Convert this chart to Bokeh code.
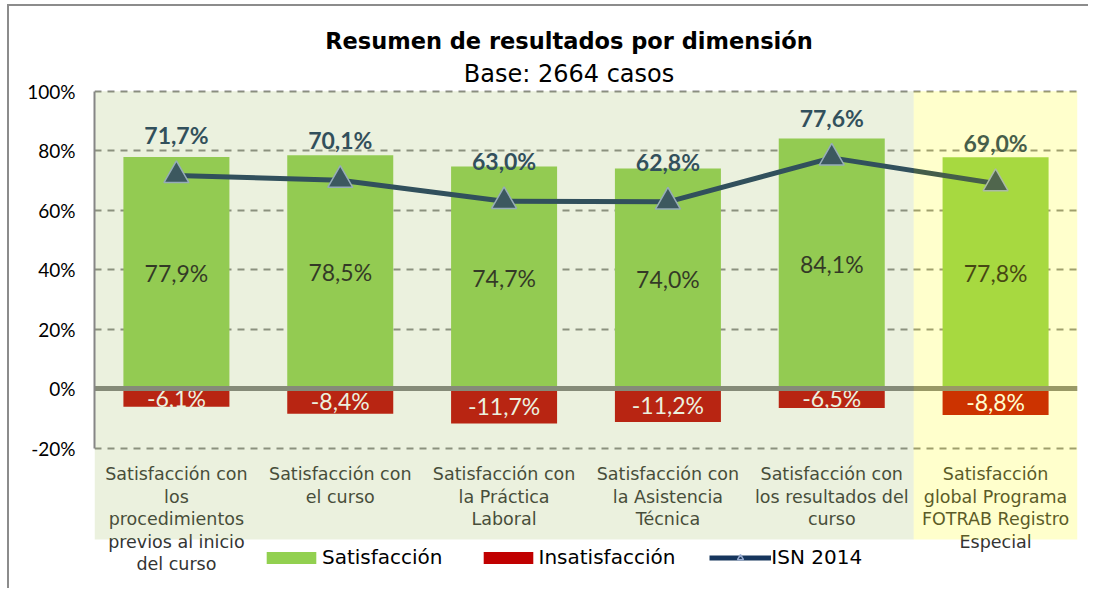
from bokeh.plotting import figure
from bokeh.models import (ColumnDataSource, FactorRange, Range1d, FixedTicker,
                          PrintfTickFormatter, Legend, LegendItem, Label)
from bokeh.core.properties import value
from bokeh.embed import file_html
from bokeh.resources import INLINE

# ---------------- data ----------------
categories = [
    "Satisfacción con los procedimientos previos al inicio del curso",
    "Satisfacción con el curso",
    "Satisfacción con la Práctica Laboral",
    "Satisfacción con la Asistencia Técnica",
    "Satisfacción con los resultados del curso",
    "Satisfacción global Programa FOTRAB Registro Especial",
]
category_labels = [
    "Satisfacción con\nlos\nprocedimientos\nprevios al inicio\ndel curso",
    "Satisfacción con\nel curso",
    "Satisfacción con\nla Práctica\nLaboral",
    "Satisfacción con\nla Asistencia\nTécnica",
    "Satisfacción con\nlos resultados del\ncurso",
    "Satisfacción\nglobal Programa\nFOTRAB Registro\nEspecial",
]
satisfaccion = [77.9, 78.5, 74.7, 74.0, 84.1, 77.8]
insatisfaccion = [-6.1, -8.4, -11.7, -11.2, -6.5, -8.8]
isn_2014 = [71.7, 70.1, 63.0, 62.8, 77.6, 69.0]
y_ticks = [-20, 0, 20, 40, 60, 80, 100]

title_text = "Resumen de resultados por dimensión"
subtitle_text = "Base: 2664 casos"


def pct(v):
    return f"{v:.1f}%".replace(".", ",")


src = ColumnDataSource(dict(
    cat=categories,
    label=category_labels,
    sat=satisfaccion,
    sat_mid=[v / 2 for v in satisfaccion],
    sat_txt=[pct(v) for v in satisfaccion],
    ins=insatisfaccion,
    ins_mid=[v / 2 for v in insatisfaccion],
    ins_txt=[pct(v) for v in insatisfaccion],
    isn=isn_2014,
    isn_txt=[pct(v) for v in isn_2014],
    zero=[0] * len(categories),
))

p = figure(
    width=1088, height=588,
    x_range=FactorRange(factors=categories, range_padding=0),
    y_range=Range1d(-67.16, 130.49),
    output_backend="svg", toolbar_location=None, title=None,
    min_border_left=94, min_border_right=11, min_border_top=0, min_border_bottom=0,
)
p.background_fill_alpha = 0
p.border_fill_alpha = 0
p.outline_line_color = None
# chart-area frame: thin gray top and left edges
p.styles = {"background-color": "#ffffff",
            "box-shadow": "inset 7px 4px 0 0 #ffffff, inset 9px 6px 0 0 #8c8c8c"}

# axes
p.xaxis.visible = False
p.xgrid.grid_line_color = None
yax = p.yaxis[0]
yax.ticker = FixedTicker(ticks=y_ticks)
yax.formatter = PrintfTickFormatter(format="%d%%")
yax.bounds = (-20, 100)
yax.axis_line_color = "#868686"
yax.axis_line_width = 2
yax.major_tick_line_color = None
yax.minor_tick_line_color = None
yax.major_label_standoff = 13
yax.major_label_text_font = "Lato"
yax.major_label_text_font_size = "19px"
yax.major_label_text_color = "#000000"

p.ygrid.ticker = FixedTicker(ticks=[t for t in y_ticks if t != 0])
p.ygrid.grid_line_color = "#878787"
p.ygrid.grid_line_width = 2
p.ygrid.grid_line_dash = "7 6"

# bars
r_sat = p.vbar(x="cat", top="sat", bottom="zero", width=0.647, source=src,
               fill_color="#92D050", line_color=None)
r_ins = p.vbar(x="cat", top="zero", bottom="ins", width=0.647, source=src,
               fill_color="#C00000", line_color=None)

# bar labels
p.text(x="cat", y="sat_mid", text="sat_txt", source=src,
       text_font=value("Lato"), text_font_size="23px", text_color="#1a1a1a",
       text_align="center", text_baseline="middle")
p.text(x="cat", y="ins_mid", text="ins_txt", source=src,
       text_font=value("Lato"), text_font_size="23px", text_color="#FFFFFF",
       text_align="center", text_baseline="middle")

# zero line
p.hspan(y=[0], line_color="#808080", line_width=5)

# ISN line
r_line = p.line(x="cat", y="isn", source=src, line_color="#17365D", line_width=5)
r_mark = p.scatter(x="cat", y="isn", source=src, marker="triangle", size=25,
                   fill_color="#254061", line_color="#95A9CF", line_width=1.5)
p.text(x="cat", y="isn", text="isn_txt", source=src, y_offset=-40,
       text_font=value("Lato"), text_font_style="bold", text_font_size="23px",
       text_color="#17365D", text_align="center", text_baseline="middle")

# category labels
p.text(x="cat", y=-25.3, text="label", source=src,
       text_font=value("DejaVu Sans"), text_font_size="17.5px",
       text_color="#333333", text_align="center", text_baseline="top",
       text_line_height=1.13)

# translucent region overlays
ov = ColumnDataSource(dict(
    left=[[categories[0], -0.5], [categories[5], -0.5]],
    right=[[categories[4], 0.5], [categories[5], 0.5]],
    top=[100, 100],
    bottom=[-50.7, -50.7],
    color=["#9BBB59", "#FFFF00"],
))
p.quad(left="left", right="right", top="top", bottom="bottom", source=ov,
       fill_color="color", fill_alpha=0.2, line_color=None)

# legend
legend = Legend(
    items=[
        LegendItem(label="Satisfacción", renderers=[r_sat]),
        LegendItem(label="Insatisfacción", renderers=[r_ins]),
        LegendItem(label="ISN 2014", renderers=[r_line, r_mark]),
    ],
    location=(166, 19), orientation="horizontal",
    glyph_width=62, glyph_height=15, label_standoff=0, spacing=34,
    padding=0, margin=0, border_line_alpha=0, background_fill_alpha=0,
    label_text_font="DejaVu Sans", label_text_font_size="20px",
    label_text_color="#000000",
)
p.add_layout(legend)

# titles
p.add_layout(Label(x=474.5, y=548, x_units="screen", y_units="screen",
                   text=title_text, text_align="center",
                   text_baseline="alphabetic", text_font="DejaVu Sans",
                   text_font_style="bold", text_font_size="22.5px",
                   text_color="#000000"))
p.add_layout(Label(x=474.5, y=515, x_units="screen", y_units="screen",
                   text=subtitle_text, text_align="center",
                   text_baseline="alphabetic", text_font="DejaVu Sans",
                   text_font_size="24px", text_color="#000000"))

open("out.html", "w").write(file_html(p, INLINE))
